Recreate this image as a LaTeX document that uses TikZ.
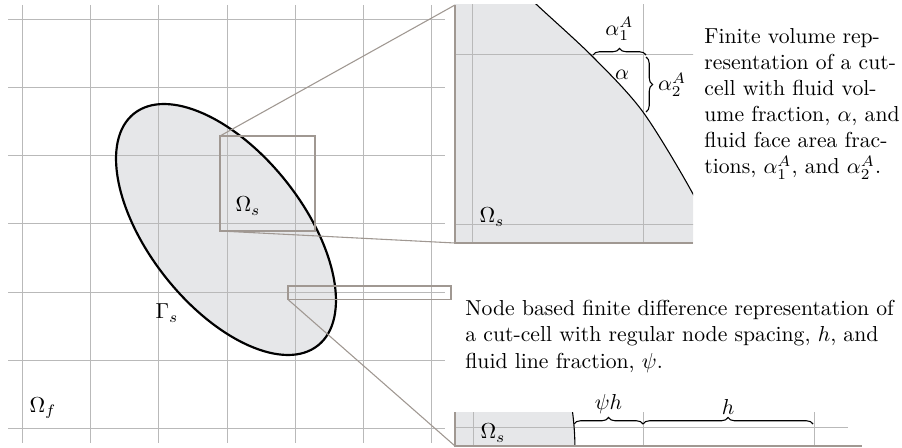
\documentclass[tikz,border=0pt]{standalone}
\usepackage{amsmath}
\usepackage{amssymb}
\usetikzlibrary{decorations.pathreplacing}

\definecolor{solidfill}{RGB}{230,231,233}
\definecolor{gridgray}{RGB}{185,185,185}
\definecolor{framegray}{RGB}{160,152,146}

\tikzset{
    gridline/.style={gridgray, line width=0.45pt},
    zoomframe/.style={framegray, line width=0.5pt},
    brace/.style={decorate, decoration={brace, amplitude=3pt}, line width=0.5pt},
}

\newcommand{\cellgrid}{%
    \foreach \i in {0,...,6} {
        \draw[gridline] (22.5+68.2*\i,5) -- (22.5+68.2*\i,443);
        \draw[gridline] (8,19.3+68.2*\i) -- (445,19.3+68.2*\i);
    }}
\newcommand{\solidpath}[1]{%
    \path[rotate around={-51.6:(226,229.5)}, #1] (226,229.5) ellipse [x radius=148, y radius=77];}
\newcommand{\cutcurve}{plot[smooth] coordinates {(500,-30) (537,5) (593,57) (643,112) (693,194) (712,240)}}

\begin{document}
\begin{tikzpicture}[x=0.4615pt, y=-0.4615pt]
    \useasboundingbox (0,0) rectangle (902,448);

    % domain with the solid body
    \solidpath{fill=solidfill}
    \cellgrid
    \solidpath{draw=black, line width=1pt}
    \node (omega-s) at (248,206) {$\Omega_s$};
    \node (gamma-s) at (167,313) {$\Gamma_s$};
    \node (omega-f) at (43,408) {$\Omega_f$};

    % zoom windows
    \draw[zoomframe] (220,136) rectangle (315,231);
    \draw[zoomframe] (288,286) rectangle (451,299.5);
    \coordinate (lens1-nw) at (220,136);
    \coordinate (lens1-sw) at (220,231);
    \coordinate (lens2-sw) at (288,299.5);
    \coordinate (view1-nw) at (455,5);
    \coordinate (view1-sw) at (455,243);
    \coordinate (view1-se) at (693,243);
    \coordinate (view2-nw) at (455,412);
    \coordinate (view2-sw) at (455,446);
    \coordinate (view2-se) at (862,446);

    % finite volume cut-cell
    \begin{scope}
        \clip (view1-nw) rectangle (view1-se);
        \fill[solidfill] \cutcurve -- (712,260) -- (440,260) -- (440,-30) -- cycle;
        \begin{scope}[shift={(-95,-335)}, scale=2.5]
            \cellgrid
        \end{scope}
        \draw[line width=0.5pt] \cutcurve;
    \end{scope}
    \draw[zoomframe] (view1-nw) -- (view1-sw) -- (view1-se);
    \draw[zoomframe] (lens1-nw) -- (view1-nw);
    \draw[zoomframe] (lens1-sw) -- (view1-sw);
    \node (omega-s1) at (492,217) {$\Omega_s$};
    \node (alpha) at (622,75) {$\alpha$};
    \draw[brace] (593,55) -- (646,55) node[midway, above=3pt] (alpha-1) {$\alpha_1^A$};
    \draw[brace] (646,57) -- (646,112) node[midway, right=2pt] (alpha-2) {$\alpha_2^A$};

    % finite difference cut-cell
    \begin{scope}
        \clip (view2-nw) rectangle (view2-se);
        \begin{scope}[shift={(-265,-303)}, scale=2.5]
            \solidpath{fill=solidfill}
            \cellgrid
            \solidpath{draw=black, line width=0.5pt}
        \end{scope}
    \end{scope}
    \draw[zoomframe] (view2-nw) -- (view2-sw) -- (view2-se);
    \draw[zoomframe] (lens2-sw) -- (view2-sw);
    \node (omega-s2) at (493,433) {$\Omega_s$};
    \draw[brace] (574,424) -- (643,424) node[midway, above=1pt] (psi-h) {$\psi h$};
    \draw[brace] (643,424) -- (813,424) node[midway, above=1pt] (h) {$h$};

    % captions
    \node[anchor=base west, align=left, inner sep=0pt] (fv-text) at (704,174)
        {Finite volume rep-\\resentation of a cut-\\cell with fluid vol-\\ume fraction, $\alpha$, and\\fluid face area frac-\\tions, $\alpha_1^A$, and $\alpha_2^A$.};
    \node[anchor=base west, align=left, inner sep=0pt] (fd-text) at (465,368)
        {Node based finite difference representation of\\a cut-cell with regular node spacing, $h$, and\\fluid line fraction, $\psi$.};
\end{tikzpicture}
\end{document}
